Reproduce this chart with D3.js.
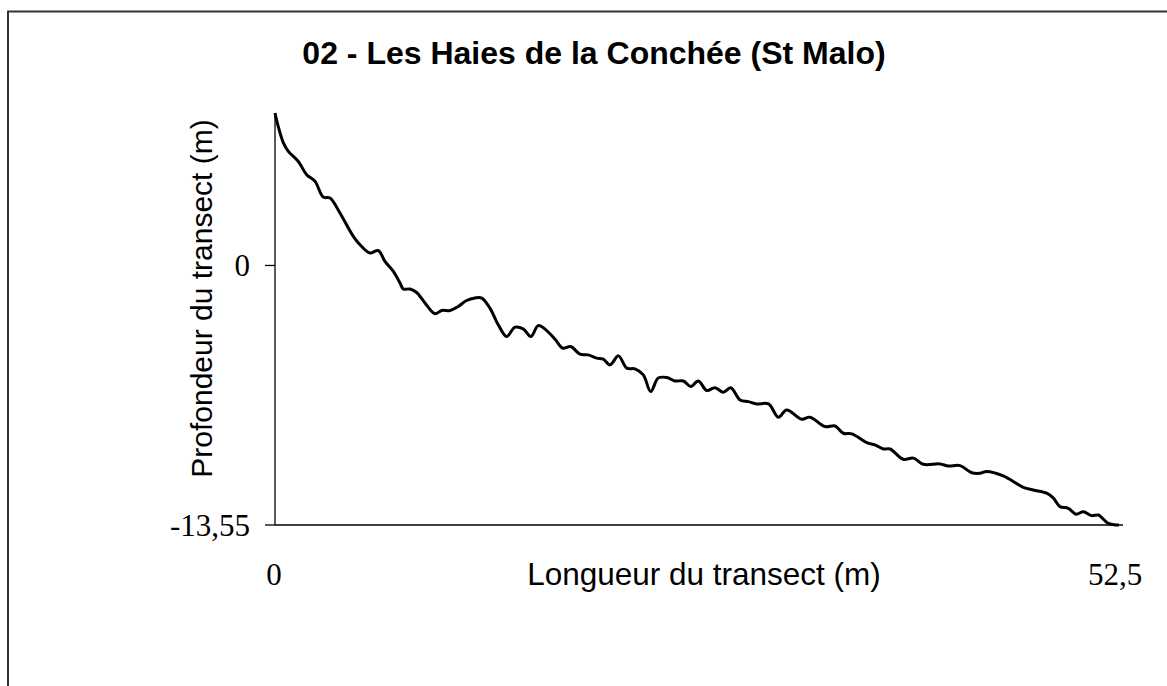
<!DOCTYPE html>
<html>
<head>
<meta charset="utf-8">
<script src="https://cdn.jsdelivr.net/npm/d3@7"></script>
<style>
  body { margin: 0; background: #fff; }
  svg { display: block; }
</style>
</head>
<body>
<svg width="1167" height="686"></svg>
<script>
// transect profile (m)
var longueur = [0, 0.2, 0.52, 0.83, 1.45, 1.97, 2.49, 3.0, 3.42, 4.04, 4.87, 5.39, 5.91, 6.43, 6.84, 7.36,
    7.78, 7.98, 8.4, 8.81, 9.33, 9.95, 10.37, 10.89, 11.4, 11.92, 12.44, 12.86, 13.37, 13.89, 14.41,
    14.93, 15.45, 15.91, 16.38, 16.9, 17.42, 17.9, 18.39, 18.97, 19.49, 20.01, 20.42, 20.84, 21.36,
    21.88, 22.39, 22.91, 23.37, 23.84, 24.37, 24.88, 25.4, 25.86, 26.33, 26.86, 27.37, 27.89, 28.35,
    28.93, 29.45, 29.97, 30.7, 31.31, 31.83, 32.76, 33.28, 34.21, 34.84, 35.35, 35.88, 36.81, 37.32,
    37.84, 38.26, 39.08, 39.71, 40.33, 41.37, 41.88, 42.61, 43.34, 43.85, 44.27, 45.3, 46.55, 47.17,
    48.0, 48.42, 48.83, 49.35, 49.83, 50.28, 50.8, 51.21, 51.83, 52.5];
var profondeur = [7.96, 7.26, 6.4, 5.96, 5.43, 4.74, 4.39, 3.57, 3.52, 2.74, 1.52, 0.99, 0.65, 0.78, 0.21, -0.31,
    -0.92, -1.23, -1.23, -1.41, -1.96, -2.52, -2.35, -2.35, -2.14, -1.83, -1.7, -1.7, -2.23, -3.1, -3.71,
    -3.22, -3.32, -3.71, -3.14, -3.4, -3.85, -4.32, -4.23, -4.63, -4.67, -4.84, -4.89, -5.19, -4.72,
    -5.36, -5.4, -5.71, -6.58, -5.88, -5.85, -6.03, -6.03, -6.32, -6.03, -6.53, -6.38, -6.62, -6.38,
    -7.02, -7.11, -7.23, -7.23, -7.92, -7.54, -8.03, -7.92, -8.41, -8.38, -8.76, -8.79, -9.25, -9.37,
    -9.58, -9.58, -10.12, -10.06, -10.38, -10.36, -10.47, -10.45, -10.82, -10.85, -10.76, -10.99, -11.58, -11.72,
    -11.89, -12.15, -12.59, -12.68, -12.99, -12.86, -13.06, -13.03, -13.46, -13.55];

var xTicks = [0, 52.5];
var yTicks = [0, -13.55];
var yTop = 7.96;

var titre = "02 - Les Haies de la Conchée (St Malo)";
var titreX = "Longueur du transect (m)";
var titreY = "Profondeur du transect (m)";

var fr = d3.formatLocale({ decimal: ",", thousands: " ", grouping: [3], currency: ["", " €"], minus: "-" });
var fmt = function(v) { return fr.format("~r")(v); };

var svg = d3.select("svg");

var x = d3.scaleLinear().domain([0, 52.5]).range([275, 1119]);
var y = d3.scaleLinear().domain([-13.55, yTop]).range([525, 113]);

// outer frame (cut off on the right and at the bottom)
svg.append("path")
    .attr("d", "M8,700V11.5H1180")
    .attr("fill", "none")
    .attr("stroke", "#333")
    .attr("stroke-width", 2);

svg.append("text")
    .attr("x", 594).attr("y", 64)
    .attr("text-anchor", "middle")
    .style("font", "bold 32px 'Liberation Sans', Arial, sans-serif")
    .text(titre);

// axes
svg.append("line")
    .attr("x1", x(0)).attr("x2", x(0))
    .attr("y1", y(yTop)).attr("y2", y(-13.55))
    .attr("stroke", "#000").attr("stroke-width", 1.3);
svg.append("line")
    .attr("x1", x(0)).attr("x2", 1123)
    .attr("y1", y(-13.55)).attr("y2", y(-13.55))
    .attr("stroke", "#000").attr("stroke-width", 1.3);

svg.selectAll(".ytick")
    .data(yTicks)
  .enter().append("line")
    .attr("class", "ytick")
    .attr("x1", x(0) - 10).attr("x2", x(0))
    .attr("y1", function(d) { return y(d); })
    .attr("y2", function(d) { return y(d); })
    .attr("stroke", "#000").attr("stroke-width", 1.3);

svg.selectAll(".ylab")
    .data(yTicks)
  .enter().append("text")
    .attr("class", "ylab")
    .attr("x", 250)
    .attr("y", function(d) { return y(d); })
    .attr("dy", "0.35em")
    .attr("text-anchor", "end")
    .style("font", "31px 'Liberation Serif', 'Times New Roman', serif")
    .text(function(d) { return fmt(d); });

svg.selectAll(".xlab")
    .data(xTicks)
  .enter().append("text")
    .attr("class", "xlab")
    .attr("x", function(d) { return d === 0 ? x(d) - 1 : x(d) - 4; })
    .attr("y", 585)
    .attr("text-anchor", "middle")
    .style("font", "31px 'Liberation Serif', 'Times New Roman', serif")
    .text(function(d) { return fmt(d); });

svg.append("text")
    .attr("x", 704).attr("y", 585)
    .attr("text-anchor", "middle")
    .style("font", "31.5px 'Liberation Sans', Arial, sans-serif")
    .text(titreX);

svg.append("text")
    .attr("transform", "translate(212,298.5) rotate(-90)")
    .attr("text-anchor", "middle")
    .style("font", "30px 'Liberation Sans', Arial, sans-serif")
    .text(titreY);

var line = d3.line()
    .x(function(d) { return x(d[0]); })
    .y(function(d) { return y(d[1]); })
    .curve(d3.curveCatmullRom.alpha(0.5));

svg.append("path")
    .datum(d3.zip(longueur, profondeur))
    .attr("d", line)
    .attr("fill", "none")
    .attr("stroke", "#000")
    .attr("stroke-width", 3)
    .attr("stroke-linejoin", "round");
</script>
</body>
</html>
